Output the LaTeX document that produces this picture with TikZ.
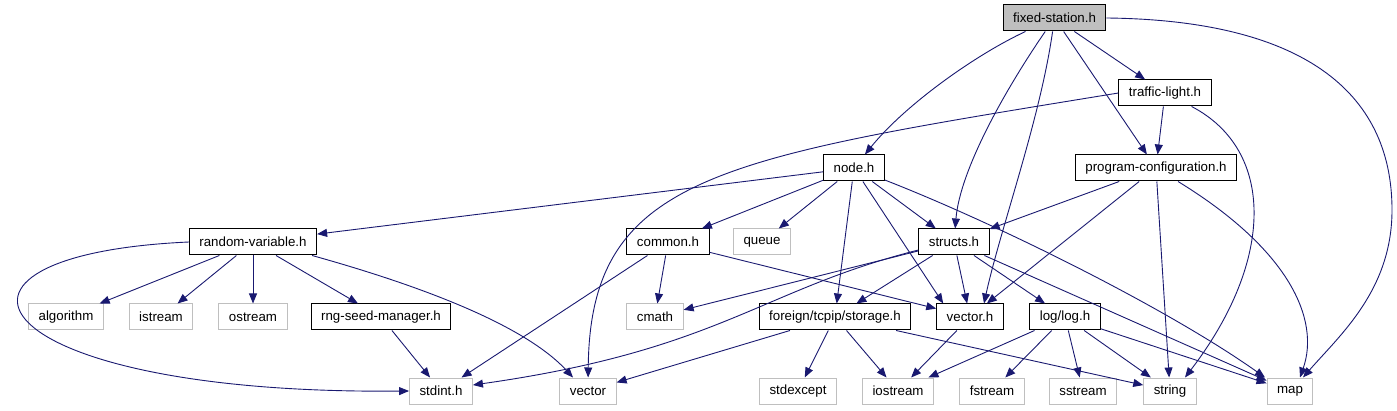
\documentclass[tikz,border=0pt]{standalone}
\usepackage{fontspec}
\setmainfont{Liberation Sans}
\usetikzlibrary{arrows.meta}
\definecolor{edgeblue}{HTML}{191970}
\definecolor{lightgrey}{HTML}{BFBFBF}
\tikzset{
  hdr/.style={draw=black, line width=1pt, minimum height=26pt, inner xsep=10pt, font=\fontsize{13.3}{16}\selectfont},
  sys/.style={hdr, draw=lightgrey},
  root/.style={hdr, fill=lightgrey},
  dep/.style={draw=edgeblue, line width=0.9pt, -{Triangle[length=10pt,width=8pt]}},
}

\begin{document}
\begin{tikzpicture}[x=1pt, y=-1pt]
\useasboundingbox (0,0) rectangle (1397,411);
\node[root] (fs) at (1054.5,18) {fixed-station.h};
\node[hdr] (tl) at (1165,93) {traffic-light.h};
\node[hdr] (nodeh) at (854,168) {node.h};
\node[hdr] (pc) at (1156,168) {program-configuration.h};
\node[hdr] (rv) at (253,242) {random-variable.h};
\node[hdr] (common) at (668,242) {common.h};
\node[sys] (queue) at (762,242) {queue};
\node[hdr] (structs) at (954,242) {structs.h};
\node[sys] (algorithm) at (66,317) {algorithm};
\node[sys] (istream) at (161,317) {istream};
\node[sys] (ostream) at (253,317) {ostream};
\node[hdr] (rng) at (381,317) {rng-seed-manager.h};
\node[sys] (cmath) at (655,317) {cmath};
\node[hdr] (storage) at (835,317) {foreign/tcpip/storage.h};
\node[hdr] (vectorh) at (970,317) {vector.h};
\node[hdr] (log) at (1065,317) {log/log.h};
\node[sys] (stdint) at (441,391) {stdint.h};
\node[sys] (vector) at (588,391) {vector};
\node[sys] (stdexcept) at (798,391) {stdexcept};
\node[sys] (iostream) at (898,391) {iostream};
\node[sys] (fstream) at (992,391) {fstream};
\node[sys] (sstream) at (1083,391) {sstream};
\node[sys] (string) at (1170,391) {string};
\node[sys] (map) at (1290,391) {map};
% fixed-station.h
\draw[dep] (fs) .. controls (975,55) and (905,105) .. (nodeh);
\draw[dep] (fs) .. controls (1005,90) and (960,170) .. (structs);
\draw[dep] (fs) .. controls (1040,120) and (1000,230) .. ([xshift=14]vectorh.north);
\draw[dep] (fs) -- (pc);
\draw[dep] (fs) -- (tl);
\draw[dep] (fs.east) .. controls (1300,20) and (1392,90) .. (1392,210) .. controls (1392,290) and (1340,335) .. ([xshift=13]map.north);
% traffic-light.h
\draw[dep] (tl.west) .. controls (720,158) and (590,175) .. (vector);
\draw[dep] (tl) -- (pc);
\draw[dep] ([xshift=-20]tl.south east) .. controls (1275,150) and (1275,260) .. ([xshift=15]string.north);
% program-configuration.h
\draw[dep] (pc) -- (structs);
\draw[dep] (pc) -- (vectorh);
\draw[dep] (pc) -- (string);
\draw[dep] ([xshift=22]pc.south) .. controls (1290,250) and (1320,320) .. ([xshift=10]map.north);
% node.h
\draw[dep] (nodeh) -- (rv);
\draw[dep] (nodeh) -- (common);
\draw[dep] (nodeh) -- (queue);
\draw[dep] (nodeh) -- (structs);
\draw[dep] (nodeh) -- (storage);
\draw[dep] (nodeh) -- ([xshift=7]vectorh.north west);
\draw[dep] (nodeh) .. controls (1000,225) and (1170,310) .. ([xshift=-25]map.north);
% random-variable.h
\draw[dep] (rv) -- (algorithm);
\draw[dep] (rv) -- (istream);
\draw[dep] (rv) -- (ostream);
\draw[dep] (rv) -- (rng);
\draw[dep] (rv.west) .. controls (-100,255) and (-20,395) .. (stdint.west);
\draw[dep] ([xshift=-5]rv.south east) .. controls (400,280) and (520,320) .. ([xshift=-15]vector.north);
\draw[dep] (rng) -- (stdint);
% common.h
\draw[dep] (common) -- (cmath);
\draw[dep] (common) -- (stdint);
\draw[dep] (common) -- (vectorh);
% structs.h
\draw[dep] (structs) -- (cmath);
\draw[dep] ([yshift=-8]structs.west) .. controls (760,290) and (720,350) .. ([yshift=6]stdint.east);
\draw[dep] (structs) -- (storage);
\draw[dep] (structs) -- (vectorh);
\draw[dep] (structs) -- (log);
\draw[dep] (structs) -- (map);
% foreign/tcpip/storage.h
\draw[dep] (storage) -- (vector);
\draw[dep] (storage) -- (stdexcept);
\draw[dep] (storage) -- (iostream);
\draw[dep] (storage) -- (string);
\draw[dep] (vectorh) -- (iostream);
% log/log.h
\draw[dep] (log) -- (iostream);
\draw[dep] (log) -- (fstream);
\draw[dep] (log) -- (sstream);
\draw[dep] (log) -- (string);
\draw[dep] (log) -- (map);
\end{tikzpicture}
\end{document}
